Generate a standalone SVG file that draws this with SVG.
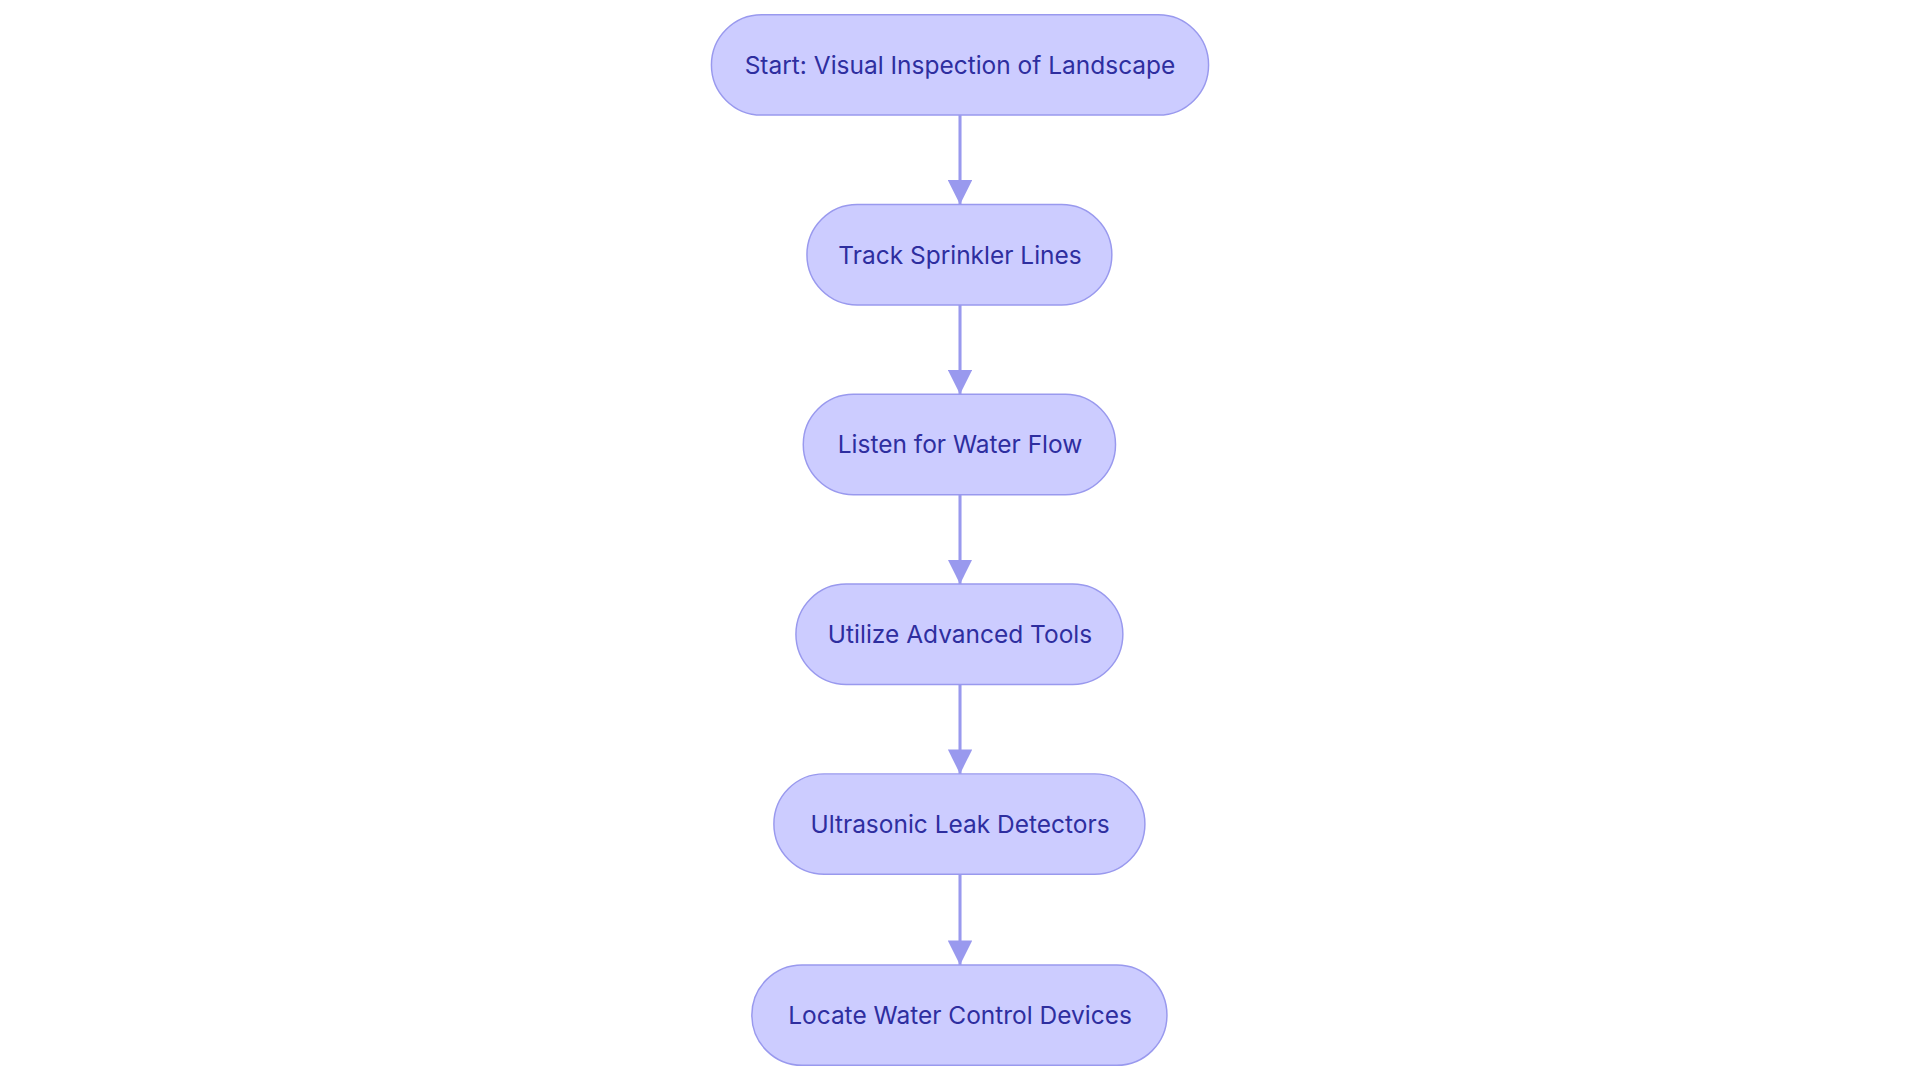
<svg xmlns="http://www.w3.org/2000/svg" width="1920" height="1080" viewBox="0 0 1920 1080">
<style>
.n rect{fill:#ccccff;stroke:#9999ee;stroke-width:1.2}
.n text{font-family:Inter,"Noto Sans",sans-serif;font-size:20px;fill:#2e2e9f;text-anchor:middle;dominant-baseline:central}
.e{stroke:#9999ee;stroke-width:2.5;fill:none;marker-end:url(#a)}
</style>
<defs><marker id="a" viewBox="0 0 10 10" refX="10" refY="5" markerWidth="7" markerHeight="7" markerUnits="userSpaceOnUse" orient="auto"><path d="M0,0L10,5L0,10z" fill="#9999ee"/></marker>
<marker id="b" viewBox="0 0 10 10" refX="10" refY="5" markerWidth="8" markerHeight="8" orient="auto"><path d="M0,0L10,5L0,10z" fill="#9999ee"/></marker></defs>
<rect width="1920" height="1080" fill="#fff"/>
<g transform="scale(1.2245)">
<g id="connectors">
<line class="e" x1="784" y1="94" x2="784" y2="167" style="marker-end:url(#b)"/>
<line class="e" x1="784" y1="249" x2="784" y2="322" style="marker-end:url(#b)"/>
<line class="e" x1="784" y1="404" x2="784" y2="477" style="marker-end:url(#b)"/>
<line class="e" x1="784" y1="559" x2="784" y2="632" style="marker-end:url(#b)"/>
<line class="e" x1="784" y1="714" x2="784" y2="788" style="marker-end:url(#b)"/>
</g>
<g id="n1" class="n"><rect x="581" y="12" width="406" height="82" rx="41"/><text x="784" y="53">Start: Visual Inspection of Landscape</text></g>
<g id="n2" class="n"><rect x="659" y="167" width="249" height="82" rx="41"/><text x="784" y="208">Track Sprinkler Lines</text></g>
<g id="n3" class="n"><rect x="656" y="322" width="255" height="82" rx="41"/><text x="784" y="363">Listen for Water Flow</text></g>
<g id="n4" class="n"><rect x="650" y="477" width="267" height="82" rx="41"/><text x="784" y="518">Utilize Advanced Tools</text></g>
<g id="n5" class="n"><rect x="632" y="632" width="303" height="82" rx="41"/><text x="784" y="673">Ultrasonic Leak Detectors</text></g>
<g id="n6" class="n"><rect x="614" y="788" width="339" height="82" rx="41"/><text x="784" y="829">Locate Water Control Devices</text></g>
</g>
</svg>
